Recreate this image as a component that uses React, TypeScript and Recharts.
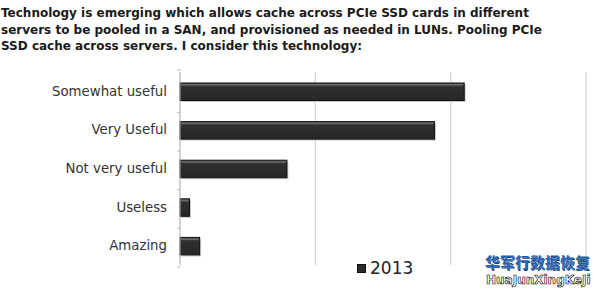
import React from "react";
import { BarChart, Bar, XAxis, YAxis, CartesianGrid, Legend } from "recharts";

const categories = ["Somewhat useful", "Very Useful", "Not very useful", "Useless", "Amazing"];
const values2013 = [42, 37.6, 15.8, 1.4, 2.9];
const xTicks = [0, 20, 40, 60];
const titleLines = [
  "Technology is emerging which allows cache across PCIe SSD cards in different",
  "servers to be pooled in a SAN, and provisioned as needed in LUNs. Pooling PCIe",
  "SSD cache across servers. I consider this technology:",
];

const data = categories.map((c, i) => ({ name: c, v2013: values2013[i] }));

const W = 600;
const H = 293;
const M = { top: 72, right: 14, bottom: 7, left: 0 };
const X_H = 1;
const Y_W = 180;
const HALF_BAND = (H - M.top - M.bottom - X_H) / categories.length / 2;

const BevelBar = (props: any) => {
  const { x, y, width, height } = props;
  if (!width || width <= 0) return null;
  return (
    <g>
      <rect x={x + 1.5} y={y + 1.5} width={width} height={height} fill="#c8c8c8" />
      <rect x={x} y={y} width={width} height={height} fill="url(#barGrad)" stroke="#111" strokeWidth={1} />
      <rect x={x + 1} y={y + 1} width={Math.max(0, width - 2)} height={1.5} fill="#6a6a6a" />
    </g>
  );
};

const YTick = (props: any) => {
  const { x, y, payload, index } = props;
  const ax = x + 9;
  return (
    <g>
      <text x={x - 5} y={y} dy={4.5} textAnchor="end" fontSize={13.3} fill="#333" fontFamily="DejaVu Sans, Verdana, sans-serif">
        {payload.value}
      </text>
      {index === 0 && <line x1={ax - 4} x2={ax} y1={y - HALF_BAND} y2={y - HALF_BAND} stroke="#bfbfbf" />}
      <line x1={ax - 4} x2={ax} y1={y + HALF_BAND} y2={y + HALF_BAND} stroke="#bfbfbf" />
    </g>
  );
};

const EmptyTick = () => <g />;

const LegendContent = () => (
  <div style={{ display: "flex", alignItems: "center", fontFamily: "DejaVu Sans, Verdana, sans-serif", fontSize: 17, color: "#222" }}>
    <svg width={9} height={9} style={{ marginRight: 4 }}>
      <rect x={0.5} y={0.5} width={8} height={8} fill="#2b2b2b" stroke="#111" />
    </svg>
    <span>2013</span>
  </div>
);

export default function App() {
  return (
    <div style={{ position: "absolute", left: 0, top: 0, width: W, height: H, background: "#fff", overflow: "hidden" }}>
      <div
        style={{
          position: "absolute",
          left: 1,
          top: 5,
          fontFamily: "DejaVu Sans, Verdana, sans-serif",
          fontWeight: "bold",
          fontSize: 12,
          lineHeight: "16.5px",
          color: "#1a1a1a",
          whiteSpace: "nowrap",
        }}
      >
        {titleLines.map((l, i) => (
          <div key={i}>{l}</div>
        ))}
      </div>
      <BarChart width={W} height={H} data={data} layout="vertical" margin={M} barSize={17.5} style={{ position: "absolute", left: 0, top: 0 }}>
        <defs>
          <linearGradient id="barGrad" x1="0" y1="0" x2="0" y2="1">
            <stop offset="0" stopColor="#4a4a4a" />
            <stop offset="0.25" stopColor="#2e2e2e" />
            <stop offset="1" stopColor="#262626" />
          </linearGradient>
        </defs>
        <CartesianGrid horizontal={false} vertical={true} stroke="#d4d4d4" strokeWidth={1.2} />
        <XAxis type="number" domain={[0, 60]} ticks={xTicks} tick={<EmptyTick />} axisLine={false} tickLine={false} height={X_H} />
        <YAxis
          type="category"
          dataKey="name"
          width={Y_W}
          tick={<YTick />}
          tickLine={false}
          axisLine={{ stroke: "#bfbfbf" }}
        />
        <Bar dataKey="v2013" name="2013" isAnimationActive={false} shape={<BevelBar />} />
        <Legend content={<LegendContent />} wrapperStyle={{ position: "absolute", left: 357, top: 258, width: "auto" }} />
      </BarChart>
      <div
        style={{
          position: "absolute",
          left: 485,
          top: 254,
          fontFamily: "Noto Sans CJK SC, sans-serif",
          fontWeight: "bold",
          fontSize: 14.5,
          color: "#1f5fb0",
          letterSpacing: 0.5,
          textShadow: "0 0 1px #fff, 1px 1px 0 #0a2a5a",
          lineHeight: "16px",
        }}
      >
        华军行数据恢复
      </div>
      <div
        style={{
          position: "absolute",
          left: 486,
          top: 273,
          fontFamily: "DejaVu Sans, sans-serif",
          fontWeight: "bold",
          fontSize: 12,
          color: "#fff",
          WebkitTextStroke: "0.6px #000",
          lineHeight: "14px",
        }}
      >
        HuaJunXingKeJi
      </div>
    </div>
  );
}
